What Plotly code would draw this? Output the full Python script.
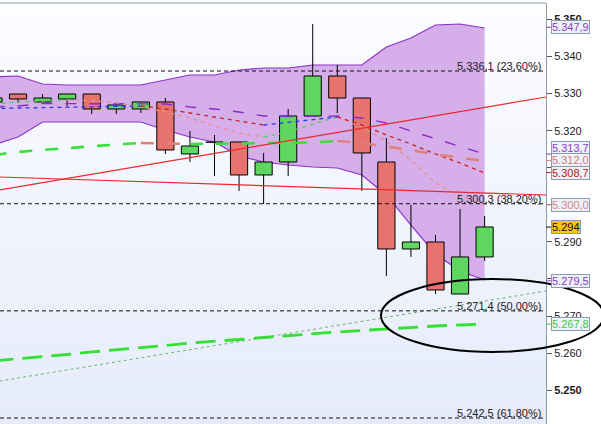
import plotly.graph_objects as go

# ---------------- data ----------------
idx = list(range(21))
opens  = [5.32775, 5.32990, 5.32775, 5.32856, 5.32990, 5.32586, 5.32586, 5.32775, 5.31372, 5.31690,
          5.31696, 5.30806, 5.31156, 5.32397, 5.33476, 5.32883, 5.31156, 5.28809, 5.28998, 5.27595, 5.28594]
highs  = [5.32910, 5.32990, 5.32990, 5.32990, 5.32990, 5.32775, 5.32775, 5.32883, 5.31992, 5.31884,
          5.31696, 5.31399, 5.32586, 5.34879, 5.33773, 5.32883, 5.31804, 5.29996, 5.29188, 5.29888, 5.29699]
lows   = [5.32720, 5.32748, 5.32775, 5.32667, 5.32451, 5.32451, 5.32478, 5.31372, 5.31156, 5.30778,
          5.30374, 5.30023, 5.30778, 5.32397, 5.32478, 5.30374, 5.28081, 5.28594, 5.27595, 5.27595, 5.28485]
closes = [5.32883, 5.32856, 5.32883, 5.32990, 5.32586, 5.32694, 5.32775, 5.31480, 5.31588, 5.31700,
          5.30806, 5.31156, 5.32397, 5.33476, 5.32883, 5.31399, 5.28809, 5.28998, 5.27703, 5.28594, 5.29403]

bb_upper = [5.33449, 5.33476, 5.33260, 5.33233, 5.33233, 5.33233, 5.33233, 5.33368, 5.33503, 5.33503,
            5.33638, 5.33692, 5.33692, 5.33773, 5.33773, 5.33773, 5.34258, 5.34501, 5.34852, 5.34879, 5.34771]
bb_lower = [5.31615, 5.31831, 5.32235, 5.32235, 5.32235, 5.32235, 5.32235, 5.32019, 5.31831, 5.31696,
            5.31318, 5.31156, 5.31075, 5.31021, 5.30994, 5.30806, 5.30266, 5.29456, 5.28674, 5.28215, 5.27973]
bb_mid   = [5.32640, 5.32667, 5.32734, 5.32734, 5.32734, 5.32734, 5.32734, 5.32721, 5.32640, 5.32586,
            5.32505, 5.32397, 5.32384, 5.32397, 5.32397, 5.32343, 5.32208, 5.31992, 5.31776, 5.31574, 5.31372]
ma_medium = [5.32599, 5.32613, 5.32626, 5.32640, 5.32653, 5.32659, 5.32667, 5.32586, 5.32478, 5.32370,
             5.32262, 5.32154, 5.32222, 5.32289, 5.32370, 5.32154, 5.31884, 5.31642, 5.31372, 5.31129, 5.30859]
ma_fast  = [5.32721, 5.32775, 5.32802, 5.32829, 5.32815, 5.32748, 5.32640, 5.32505, 5.32343, 5.32127,
            5.31938, 5.31831, 5.31965, 5.32181, 5.32370, 5.32100, 5.31723, 5.31210, 5.30590, 5.30239, 5.29996]
ma_slow  = [5.31345, 5.31426, 5.31480, 5.31534, 5.31588, 5.31628, 5.31669, 5.31655, 5.31642, 5.31647,
            5.31653, 5.31658, 5.31663, 5.31682, 5.31722, 5.31669, 5.31574, 5.31480, 5.31359, 5.31278, 5.31183]
ma_long  = [5.25788, 5.25842, 5.25896, 5.25963, 5.26031, 5.26085, 5.26152, 5.26206, 5.26273, 5.26314,
            5.26368, 5.26422, 5.26476, 5.26516, 5.26570, 5.26611, 5.26651, 5.26705, 5.26732, 5.26759, 5.26786]

fib_levels = [5.3361, 5.3003, 5.2714, 5.2425]
fib_labels = ["5.336,1 (23,60%)", "5.300,3 (38,20%)", "5.271,4 (50,00%)", "5.242,5 (61,80%)"]

trend_x = [0, 23]
trend_up = [5.30371, 5.32966]
trend_down = [5.30757, 5.30255]
trend_green = [5.25219, 5.27731]

tick_vals = [5.250, 5.260, 5.270, 5.280, 5.290, 5.300, 5.310, 5.320, 5.330, 5.340, 5.350]
tick_text = ["<b>5.250</b>", "5.260", "5.270", "", "5.290", "", "", "5.320", "5.330", "5.340", "<b>5.350</b>"]

tag_values = [5.3479, 5.3137, 5.3120, 5.3087, 5.3000, 5.294, 5.2795, 5.2678]
tag_texts  = ["5.347,9", "5.313,7", "5.312,0", "5.308,7", "5.300,0", "5.294", "5.279,5", "5.267,8"]
tag_colors = ["#8A3CC8", "#8A3CC8", "#D87A74", "#B0201C", "#D88888", "#111111", "#8A3CC8", "#3CCB3C"]
tag_bg     = ["#EEF1F9", "#EEF1F9", "#EEF1F9", "#EEF1F9", "#EEF1F9", "#F6C21E", "#EEF1F9", "#EEF1F9"]
tag_shift  = [0, 6, 0, 0, 0, 0, 0, 0]

X_RANGE = [0.265, 22.5]
Y_RANGE = [5.24088, 5.35445]
BODY_HALF = 0.35


def split_by_slope(xs, ys):
    up_x, up_y, dn_x, dn_y = [], [], [], []
    for i in range(len(ys) - 1):
        tx, ty = (up_x, up_y) if ys[i + 1] >= ys[i] else (dn_x, dn_y)
        if tx and tx[-1] == xs[i]:
            tx.append(xs[i + 1]); ty.append(ys[i + 1])
        else:
            if tx:
                tx.append(None); ty.append(None)
            tx += [xs[i], xs[i + 1]]; ty += [ys[i], ys[i + 1]]
    return up_x, up_y, dn_x, dn_y


fig = go.Figure()

# Bollinger band
fig.add_trace(go.Scatter(x=idx, y=bb_upper, mode="lines", line=dict(color="#8C32C8", width=1.2),
                         hoverinfo="skip"))
fig.add_trace(go.Scatter(x=idx, y=bb_lower, mode="lines", line=dict(color="#8C32C8", width=1.2),
                         fill="tonexty", fillcolor="#D5AEEA", hoverinfo="skip"))

# candles: wicks then bodies
wx, wy = [], []
for i, h, l in zip(idx, highs, lows):
    wx += [i, i, None]; wy += [l, h, None]
fig.add_trace(go.Scatter(x=wx, y=wy, mode="lines", line=dict(color="black", width=1), hoverinfo="skip"))

for up, fillc in ((True, "#5FD65F"), (False, "#E8736E")):
    bx, by = [], []
    for i, o, c in zip(idx, opens, closes):
        if (c >= o) != up:
            continue
        bx += [i - BODY_HALF, i + BODY_HALF, i + BODY_HALF, i - BODY_HALF, i - BODY_HALF, None]
        by += [o, o, c, c, o, None]
    fig.add_trace(go.Scatter(x=bx, y=by, mode="lines", fill="toself", fillcolor=fillc,
                             line=dict(color="black", width=1), hoverinfo="skip"))

# band middle
fig.add_trace(go.Scatter(x=idx, y=bb_mid, mode="lines",
                         line=dict(color="#8C2BCB", width=1.4, dash="11px,13px")))

# slope-coloured averages
def add_sloped(ys, up_col, dn_col, width, dash):
    ux, uy, dx, dy = split_by_slope(idx, ys)
    fig.add_trace(go.Scatter(x=ux, y=uy, mode="lines", line=dict(color=up_col, width=width, dash=dash)))
    fig.add_trace(go.Scatter(x=dx, y=dy, mode="lines", line=dict(color=dn_col, width=width, dash=dash)))

add_sloped(ma_fast, "#5CCB5C", "#E39090", 1.3, "4px,4px")
add_sloped(ma_medium, "#2A3AE6", "#C82420", 1.3, "4px,4px")
add_sloped(ma_slow, "#3ADF3A", "#E0807A", 2.6, "13px,13px")

fig.add_trace(go.Scatter(x=idx, y=ma_long, mode="lines",
                         line=dict(color="#33E033", width=2.8, dash="20px,9px")))

# trend lines
fig.add_trace(go.Scatter(x=trend_x, y=trend_up, mode="lines", line=dict(color="#E82A2A", width=1.2)))
fig.add_trace(go.Scatter(x=trend_x, y=trend_down, mode="lines", line=dict(color="#E82A2A", width=1.2)))
fig.add_trace(go.Scatter(x=trend_x, y=trend_green, mode="lines",
                         line=dict(color="#6DB56D", width=1, dash="3px,3px")))

shapes = []
# background gradient
n = 24
top = (252, 253, 255)
bot = (229, 235, 250)
for k in range(n):
    t = (k + 0.5) / n
    c = tuple(round(top[j] + (bot[j] - top[j]) * t) for j in range(3))
    shapes.append(dict(type="rect", xref="paper", yref="paper", x0=0, x1=1,
                       y0=1 - (k + 1) / n, y1=1 - k / n, layer="below",
                       fillcolor="rgb(%d,%d,%d)" % c, line=dict(width=0)))
# fib lines
for lv in fib_levels:
    shapes.append(dict(type="line", xref="paper", yref="y", x0=0, x1=1, y0=lv, y1=lv,
                       layer="above", line=dict(color="#111111", width=1, dash="4px,3px")))
# top border
shapes.append(dict(type="line", xref="paper", yref="paper", x0=0, x1=1, y0=1, y1=1,
                   line=dict(color="#8E9AA6", width=1)))
# axis marks for tags
for v, col in zip(tag_values, tag_colors):
    shapes.append(dict(type="line", xref="paper", yref="y", x0=1.0, x1=1.0092, y0=v, y1=v,
                       line=dict(color=col, width=1)))
# ellipse
shapes.append(dict(type="circle", xref="paper", yref="paper", x0=0.6978, x1=1.1062,
                   y0=0.1710, y1=0.3444, line=dict(color="black", width=2)))

annotations = []
for lv, lab in zip(fib_levels, fib_labels):
    annotations.append(dict(xref="paper", yref="y", x=0.995, y=lv, text=lab, showarrow=False,
                            xanchor="right", yanchor="bottom", yshift=-3,
                            font=dict(family="Liberation Sans, Arial", size=11, color="#222222")))
for v, txt, col, bg, sh in zip(tag_values, tag_texts, tag_colors, tag_bg, tag_shift):
    annotations.append(dict(xref="paper", yref="y", x=1.0092, y=v, text=txt, showarrow=False,
                            xanchor="left", yanchor="middle", yshift=sh,
                            bgcolor=bg, bordercolor="#8C9BAE", borderwidth=1, borderpad=0,
                            font=dict(family="Liberation Sans, Arial", size=11, color=col)))

fig.update_layout(
    width=601, height=424,
    margin=dict(l=0, r=55, t=3, b=0),
    paper_bgcolor="white", plot_bgcolor="#F4F7FD",
    showlegend=False,
    shapes=shapes, annotations=annotations,
    xaxis=dict(range=X_RANGE, showgrid=False, zeroline=False, showticklabels=False,
               ticks="", showline=False),
    yaxis=dict(range=Y_RANGE, side="right", tickvals=tick_vals, ticktext=tick_text,
               ticks="outside", ticklen=5, tickcolor="#555555", showline=True,
               linecolor="#8E9AA6", linewidth=1, showgrid=False, zeroline=False,
               tickfont=dict(family="Liberation Sans, Arial", size=11, color="#1A1A1A")),
)

fig.write_html("out.html", config={"displayModeBar": False},
               post_script="document.body.style.margin='0';document.body.style.overflow='hidden';")
